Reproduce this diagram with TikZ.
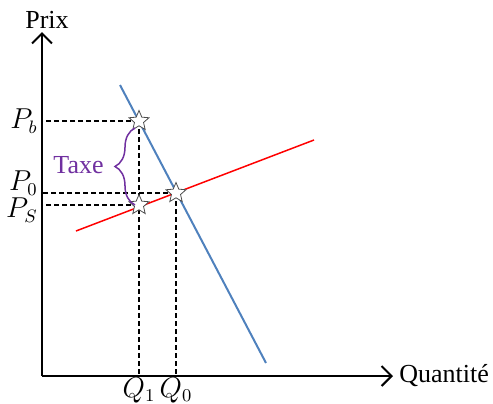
\documentclass[tikz,border=0pt]{standalone}
\usepackage{fontspec}
\setmainfont{Liberation Serif}
\usetikzlibrary{arrows.meta,shapes.geometric,decorations.pathreplacing,calc}
\definecolor{demandblue}{RGB}{79,129,189}
\definecolor{taxepurple}{RGB}{112,48,160}

\begin{document}
\begin{tikzpicture}[x=0.5pt, y=0.5pt, font=\fontsize{13}{15}\selectfont,
    axis/.style={line width=1pt, -{Straight Barb[length=5pt,width=10pt]}},
    guide/.style={dash pattern=on 2.5pt off 1.5pt, line width=0.75pt},
    eqstar/.style={star, star points=5, star point ratio=2.2, draw=black!70, fill=white, line width=0.4pt, minimum size=10.5pt, inner sep=0pt},
    pricelabel/.style={font=\fontsize{13.5}{16}\selectfont, inner sep=2pt}]
    \useasboundingbox (0,0) rectangle (493,403);

    % Axes
    \coordinate (O) at (42,27);
    \coordinate (ytop) at (42,371);
    \coordinate (xend) at (393,27);
    \draw[axis] (O) -- (ytop);
    \draw[axis] (O) -- (xend);
    \node (prix) at (47,383) {Prix};
    \node[right, inner sep=3pt] (quant) at (xend) {Quantité};

    % Demand (blue) and supply (red)
    \coordinate (d1) at (120,318);
    \coordinate (d2) at (266,40);
    \draw[demandblue, line width=1pt] (d1) -- (d2);
    \coordinate (s1) at (76,172);
    \coordinate (s2) at (314,263);
    \draw[red, line width=0.75pt] (s1) -- (s2);

    % Points of the tax and the equilibrium
    \coordinate (pb) at (139,282);
    \coordinate (ps) at (139,198);
    \coordinate (eq) at (176,210);

    % Dashed guides
    \draw[guide] (pb) -- (pb -| O);
    \draw[guide] (eq) -- (eq -| O);
    \draw[guide] (ps) -- (ps -| O);
    \draw[guide] (pb) -- (pb |- O);
    \draw[guide] (eq) -- (eq |- O);

    % Stars
    \node[eqstar] (starb) at (pb) {};
    \node[eqstar] (stars) at (ps) {};
    \node[eqstar] (stareq) at (eq) {};

    % Price and quantity labels
    \node[pricelabel, left] (lpb) at (pb -| O) {$P_b$};
    \node[pricelabel, left, yshift=5pt] (lp0) at (eq -| O) {$P_0$};
    \node[pricelabel, left, yshift=-2.5pt] (lps) at (ps -| O) {$P_S$};
    \node[pricelabel, below, inner sep=0.5pt] (lq1) at (pb |- O) {$Q_1$};
    \node[pricelabel, below, inner sep=0.5pt] (lq0) at (eq |- O) {$Q_0$};

    % Tax brace
    \coordinate (bbot) at (135,198);
    \coordinate (btop) at (135,275);
    \draw[taxepurple, line width=0.75pt, decorate, decoration={brace, amplitude=10pt}] (bbot) -- (btop);
    \node[taxepurple, left, inner sep=2pt] (taxe) at (108,238) {Taxe};
\end{tikzpicture}
\end{document}
